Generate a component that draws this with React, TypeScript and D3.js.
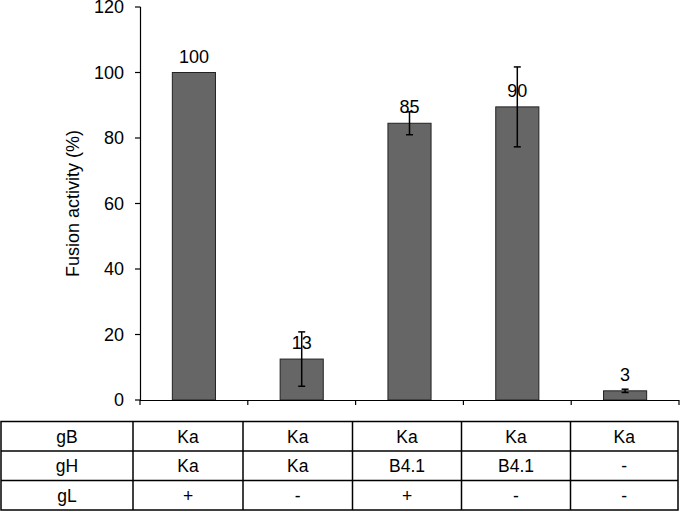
import React from "react";
import * as d3 from "d3";

const categories = ["A", "B", "C", "D", "E"];
const values = [100, 12.5, 84.5, 89.5, 2.8];
const errors = [0, 8.3, 3.5, 12.2, 0.5];
const valueLabels = ["100", "13", "85", "90", "3"];
const yTicks = [0, 20, 40, 60, 80, 100, 120];
const rowHeaders = ["gB", "gH", "gL"];
const rowGB = ["Ka", "Ka", "Ka", "Ka", "Ka"];
const rowGH = ["Ka", "Ka", "B4.1", "B4.1", "-"];
const rowGL = ["+", "-", "+", "-", "-"];

const FONT = "'Liberation Sans', Arial, sans-serif";

export default function App() {
  const W = 680, H = 512;
  const x = d3.scaleBand<string>().domain(categories).range([140, 679]).paddingInner(0.6).paddingOuter(0.3);
  const y = d3.scaleLinear().domain([0, 120]).range([400, 7]);
  const step = x.step();
  const x0 = 140;

  const tableRows = [rowGB, rowGH, rowGL];
  const tTop = 421.5, rowH = 29.5;
  const colX = [1, 133, 243, 352.5, 461.5, 570.5, 678];

  return (
    <svg width={W} height={H} style={{ position: "absolute", left: 0, top: 0, display: "block" }} fontFamily={FONT}>
      <rect x={0} y={0} width={W} height={H} fill="#fff" />
      {/* y axis */}
      <line x1={140.5} x2={140.5} y1={y(120)} y2={y(0)} stroke="#000" strokeWidth={1.2} />
      {yTicks.map((t) => (
        <g key={t}>
          <line x1={135} x2={140.5} y1={y(t)} y2={y(t)} stroke="#000" strokeWidth={1.2} />
          <text x={124} y={y(t)} dy="0.36em" textAnchor="end" fontSize={18} fill="#000">{t}</text>
        </g>
      ))}
      <text transform={`translate(79,${(y(0) + y(120)) / 2}) rotate(-90)`} textAnchor="middle" fontSize={18} fill="#000">Fusion activity (%)</text>
      {/* bars */}
      {categories.map((c, i) => {
        const bx = x(c)!;
        const bw = x.bandwidth();
        const cx = bx + bw / 2;
        return (
          <g key={c}>
            <rect x={bx} y={y(values[i])} width={bw} height={y(0) - y(values[i])} fill="#666666" stroke="#222" strokeWidth={1} />
            {errors[i] > 0 && (
              <g stroke="#000" strokeWidth={1.5}>
                <line x1={cx} x2={cx} y1={y(values[i] + errors[i])} y2={y(values[i] - errors[i])} />
                <line x1={cx - 3.5} x2={cx + 3.5} y1={y(values[i] + errors[i])} y2={y(values[i] + errors[i])} />
                <line x1={cx - 3.5} x2={cx + 3.5} y1={y(values[i] - errors[i])} y2={y(values[i] - errors[i])} />
              </g>
            )}
            <text x={cx} y={y(values[i]) - 10} textAnchor="middle" fontSize={18} fill="#000">{valueLabels[i]}</text>
          </g>
        );
      })}
      {/* x axis */}
      <line x1={140} x2={679} y1={y(0) + 0.5} y2={y(0) + 0.5} stroke="#000" strokeWidth={1.2} />
      {d3.range(categories.length + 1).map((k) => (
        <line key={k} x1={x0 + k * step} x2={x0 + k * step} y1={y(0)} y2={y(0) + 5} stroke="#000" strokeWidth={1.2} />
      ))}
      {/* table */}
      <g stroke="#000" strokeWidth={1.5} fill="none">
        <rect x={colX[0]} y={tTop} width={colX[6] - colX[0]} height={rowH * 3} />
        {[1, 2].map((r) => (
          <line key={r} x1={colX[0]} x2={colX[6]} y1={tTop + r * rowH} y2={tTop + r * rowH} />
        ))}
        {colX.slice(1, 6).map((cx, k) => (
          <line key={k} x1={cx} x2={cx} y1={tTop} y2={tTop + 3 * rowH} />
        ))}
      </g>
      {rowHeaders.map((h, r) => (
        <g key={h}>
          <text x={(colX[0] + colX[1]) / 2} y={tTop + r * rowH + rowH / 2} dy="0.36em" textAnchor="middle" fontSize={17.5} fill="#000">{h}</text>
          {tableRows[r].map((v, c) => (
            <text key={c} x={(colX[c + 1] + colX[c + 2]) / 2} y={tTop + r * rowH + rowH / 2} dy="0.36em" textAnchor="middle" fontSize={17.5} fill="#000">{v}</text>
          ))}
        </g>
      ))}
    </svg>
  );
}
